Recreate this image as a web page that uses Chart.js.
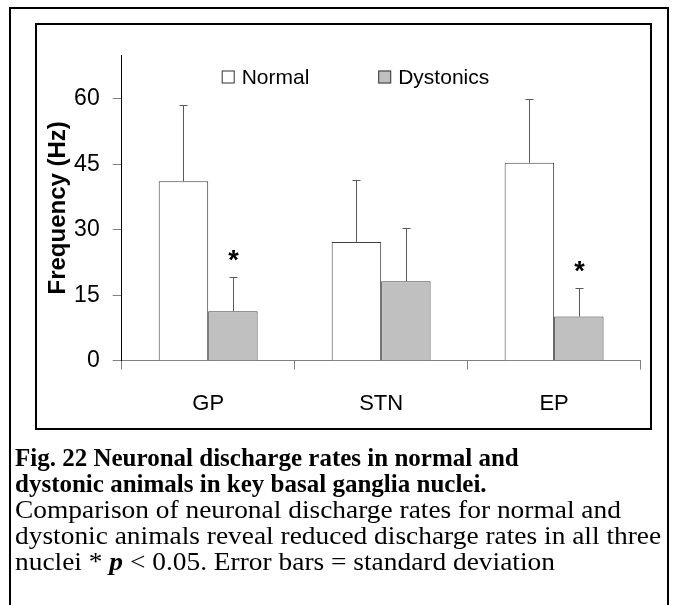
<!DOCTYPE html>
<html>
<head>
<meta charset="utf-8">
<script src="https://cdn.jsdelivr.net/npm/chart.js@4.4.1/dist/chart.umd.min.js"></script>
<style>
html,body{margin:0;padding:0;background:#fff;width:674px;height:605px;overflow:hidden;}
#outer{position:absolute;left:9px;top:7px;width:660px;height:640px;border:2px solid #000;box-sizing:border-box;}
#inner{position:absolute;left:35px;top:23px;width:617px;height:407px;border:2px solid #000;box-sizing:border-box;}
#chart{position:absolute;left:0;top:0;}
#caption{position:absolute;left:15px;top:445px;white-space:nowrap;font-family:"Liberation Serif","Times New Roman",serif;font-size:25px;line-height:26px;color:#000;}
#caption .ln{height:26px;transform-origin:0 50%;}
#caption .b{font-weight:bold;}
#caption .r{transform:scaleX(1.096);}
</style>
</head>
<body>
<div id="outer"></div>
<div id="inner"></div>
<canvas id="chart" width="674" height="605"></canvas>
<div id="caption">
<div class="ln b">Fig. 22 Neuronal discharge rates in normal and</div>
<div class="ln b">dystonic animals in key basal ganglia nuclei.</div>
<div class="ln r">Comparison of neuronal discharge rates for normal and</div>
<div class="ln r">dystonic animals reveal reduced discharge rates in all three</div>
<div class="ln r">nuclei * <b><i>p</i></b> &lt; 0.05. Error bars = standard deviation</div>
</div>
<script>
const categories = ['GP', 'STN', 'EP'];
const seriesNames = ['Normal', 'Dystonics'];
const normalMeans = [41.1, 27.2, 45.3];
const dystonicMeans = [11.3, 18.2, 10.1];
const normalSD = [17.4, 14.2, 14.7];
const dystonicSD = [7.9, 12.3, 6.5];
const normalSignificant = [false, false, false];
const dystonicSignificant = [true, false, true];
const yTicks = [0, 15, 30, 45, 60];
const yMax = 70;

const SANS = '"Liberation Sans", Arial, sans-serif';
Chart.defaults.font.family = SANS;
Chart.defaults.color = '#000';

const errorBars = {
  id: 'errorBars',
  afterDatasetsDraw(chart) {
    const ctx = chart.ctx, y = chart.scales.y;
    chart.data.datasets.forEach((ds, di) => {
      const meta = chart.getDatasetMeta(di);
      meta.data.forEach((bar, i) => {
        const x = Math.round(bar.x) + 0.5;
        const base = y.getPixelForValue(ds.data[i]);
        const top = Math.round(y.getPixelForValue(ds.data[i] + ds.sd[i])) + 0.5;
        ctx.save();
        ctx.strokeStyle = '#5a5a5a';
        ctx.lineWidth = 1;
        ctx.beginPath();
        ctx.moveTo(x, base);
        ctx.lineTo(x, top);
        ctx.moveTo(x - 4, top);
        ctx.lineTo(x + 4, top);
        ctx.stroke();
        if (ds.sig[i]) {
          ctx.fillStyle = '#000';
          ctx.font = 'bold 27px ' + SANS;
          ctx.textAlign = 'center';
          ctx.textBaseline = 'alphabetic';
          ctx.fillText('*', x, top - 9);
        }
        ctx.restore();
      });
    });
  }
};

const customLegend = {
  id: 'customLegend',
  afterDraw(chart, args, opts) {
    const ctx = chart.ctx;
    const area = chart.chartArea;
    chart.data.datasets.forEach((ds, i) => {
      const bx = area.left + opts.offsets[i];
      const cy = opts.y;
      ctx.save();
      ctx.fillStyle = ds.backgroundColor;
      ctx.strokeStyle = '#333';
      ctx.lineWidth = 1;
      ctx.fillRect(bx, cy - 6.5, 13, 13);
      ctx.strokeRect(bx + 0.5, cy - 6.5 + 0.5, 12, 12);
      ctx.fillStyle = '#000';
      ctx.font = '21px ' + SANS;
      ctx.textAlign = 'left';
      ctx.textBaseline = 'middle';
      ctx.fillText(ds.label, bx + 20, cy + 1);
      ctx.restore();
    });
  }
};

new Chart(document.getElementById('chart'), {
  type: 'bar',
  data: {
    labels: categories,
    datasets: [
      { label: seriesNames[0], data: normalMeans, sd: normalSD, sig: normalSignificant,
        backgroundColor: '#ffffff', borderColor: '#404040', borderWidth: 1,
        categoryPercentage: 0.572, barPercentage: 1 },
      { label: seriesNames[1], data: dystonicMeans, sd: dystonicSD, sig: dystonicSignificant,
        backgroundColor: '#c0c0c0', borderColor: '#404040', borderWidth: 1,
        categoryPercentage: 0.572, barPercentage: 1 }
    ]
  },
  options: {
    responsive: false,
    animation: false,
    devicePixelRatio: 1,
    layout: { padding: { left: 0, top: 55, right: 33.4, bottom: 184.3 } },
    plugins: {
      legend: { display: false },
      tooltip: { enabled: false },
      customLegend: { y: 77, offsets: [100, 256.5] }
    },
    scales: {
      x: {
        afterFit: s => { s.height = 60; },
        grid: { drawOnChartArea: false, drawTicks: true, tickLength: 9, tickColor: '#808080', offset: true },
        border: { display: true, color: '#808080', width: 1 },
        ticks: { color: '#000', font: { size: 22 }, padding: 21 }
      },
      y: {
        min: 0, max: yMax,
        afterBuildTicks: s => { s.ticks = yTicks.map(v => ({ value: v })); },
        afterFit: s => { s.width = 121.7; },
        grid: { drawOnChartArea: false, drawTicks: true, tickLength: 9, tickColor: '#808080' },
        border: { display: true, color: '#000', width: 1 },
        ticks: { color: '#000', font: { size: 23 }, padding: 13 },
        title: { display: true, text: 'Frequency (Hz)', color: '#000',
                 font: { size: 24, weight: 'bold' }, padding: { top: 44, bottom: 0 } }
      }
    }
  },
  plugins: [errorBars, customLegend]
});
</script>
</body>
</html>
